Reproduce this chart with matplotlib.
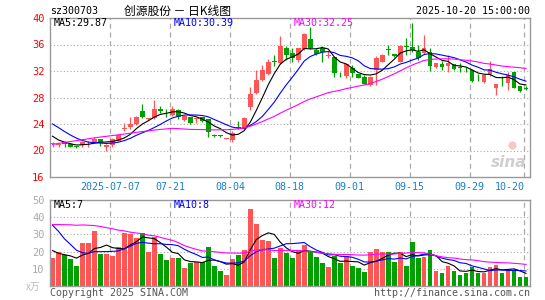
import matplotlib
matplotlib.use("Agg")
import matplotlib.pyplot as plt
import numpy as np
import pandas as pd
from matplotlib.transforms import blended_transform_factory

plt.rcParams["font.family"] = ["DejaVu Sans Mono", "Noto Sans CJK SC"]

# daily bars, 2025-06-23 .. 2025-10-20 (80 trading days)
OPEN = [20.95, 20.9, 21.3, 20.95, 20.6, 20.8, 21.25, 21.3, 21.7, 20.6,
        20.8, 21.5, 23.25, 23.5, 24.0, 25.9, 24.7, 24.9, 26.2, 26.0,
        25.35, 26.1, 24.65, 25.0, 24.7, 25.0, 24.7, 22.3, 22.3, 21.8,
        21.6, 23.6, 23.45, 26.5, 28.7, 30.6, 31.5, 33.5, 33.2, 35.4,
        34.7, 33.7, 35.3, 36.8, 35.2, 35.4, 34.2, 34.05, 31.6, 31.3,
        32.4, 31.5, 31.15, 29.9, 32.15, 33.4, 35.25, 34.5, 33.4, 35.75,
        35.67, 34.9, 34.7, 34.8, 32.55, 33.1, 32.75, 33.0, 32.55, 32.35,
        32.15, 30.95, 30.4, 31.5, 29.4, 30.35, 30.25, 31.8, 29.8, 29.35]
HIGH = [21.35, 21.2, 21.4, 21.1, 20.7, 21.45, 21.4, 22.0, 21.75, 21.0,
        21.9, 22.4, 24.1, 25.1, 25.2, 27.0, 24.9, 27.6, 26.7, 26.2,
        26.7, 26.2, 25.3, 25.1, 25.0, 25.1, 24.75, 22.5, 22.4, 21.95,
        22.95, 24.5, 25.1, 29.6, 32.1, 32.9, 33.8, 34.4, 37.3, 35.8,
        35.4, 35.4, 37.7, 38.7, 35.4, 35.7, 35.0, 34.1, 31.9, 33.1,
        32.9, 31.6, 31.4, 31.2, 34.2, 34.5, 36.0, 34.6, 35.9, 37.0,
        39.2, 35.9, 37.4, 35.4, 33.2, 33.5, 34.4, 33.1, 33.2, 32.6,
        32.2, 31.5, 31.6, 33.5, 30.1, 31.2, 31.9, 31.9, 29.8, 29.7]
LOW = [20.6, 20.6, 20.5, 20.5, 20.45, 20.6, 20.6, 21.2, 20.7, 20.0,
       20.6, 21.4, 22.9, 23.3, 23.9, 24.9, 24.6, 24.7, 25.6, 25.1,
       25.2, 24.7, 24.5, 23.95, 24.2, 24.3, 22.1, 22.1, 22.1, 21.75,
       21.3, 23.3, 23.3, 26.1, 28.6, 30.5, 31.4, 32.7, 33.0, 33.7,
       33.4, 33.4, 35.2, 35.3, 34.4, 33.4, 33.9, 31.1, 31.15, 30.9,
       31.15, 30.9, 30.0, 29.7, 29.9, 33.3, 34.4, 34.1, 33.3, 34.4,
       34.9, 33.7, 34.5, 32.0, 32.4, 32.15, 31.9, 32.2, 31.9, 31.9,
       30.4, 30.5, 30.2, 31.3, 28.4, 29.7, 29.1, 29.5, 28.9, 29.1]
CLOSE = [21.1, 20.95, 20.95, 20.6, 20.55, 21.3, 21.3, 21.8, 21.25, 20.8,
         21.7, 22.3, 23.45, 24.0, 25.1, 25.1, 24.85, 26.2, 26.0, 25.9,
         26.2, 25.0, 25.15, 24.2, 24.9, 24.4, 22.8, 22.2, 22.2, 21.85,
         22.6, 23.4, 24.95, 28.6, 30.7, 32.1, 33.3, 33.35, 35.7, 34.4,
         33.9, 35.4, 37.6, 35.4, 34.5, 34.8, 34.35, 31.65, 31.5, 33.05,
         31.65, 31.0, 30.1, 31.15, 33.9, 34.4, 35.15, 34.2, 35.8, 35.65,
         35.17, 34.0, 35.4, 32.8, 33.15, 32.65, 33.25, 32.3, 32.5, 32.3,
         30.5, 30.9, 31.4, 32.3, 30.0, 30.3, 31.4, 29.5, 29.0, 29.3]
VOLUME = [16, 20, 18, 15.5, 11.5, 25, 25, 32, 18.5, 18.5,
          17.5, 22.5, 31, 30, 28, 31, 20, 28.5, 18.5, 15,
          16, 16, 10.5, 13.5, 14, 14, 22.5, 11.5, 9, 6.5,
          15.5, 18, 21, 44.5, 36, 27, 26, 16.5, 22, 19.4,
          16, 21.2, 24.1, 20.6, 16.7, 13.1, 11.2, 17.6, 13.1, 17.5,
          11.8, 10.2, 8.2, 19.8, 21.8, 20, 19.6, 14.1, 20, 11.8,
          25.3, 16.3, 16.7, 21.2, 8.8, 7.8, 11.8, 8.8, 6.5, 7.8,
          11.2, 7.8, 7.8, 11.2, 12.4, 7.6, 9.2, 9.4, 5.3, 5.3]

# earlier sessions, only needed to seed the moving averages
PRIOR_CLOSE = [16.3, 16.5, 16.4, 16.8, 17.0, 17.2, 17.5, 17.4, 17.8, 18.0,
               19.0, 19.8, 20.5, 21.0, 21.5, 22.0, 22.5, 23.0, 23.5, 23.7,
               26.5, 26.8, 26.0, 25.2, 24.8, 23.8, 22.6, 21.8, 21.5]
PRIOR_VOLUME = [18, 22, 17, 20, 19, 30, 38, 34, 40, 35.5,
                48, 44, 52, 42, 43.5, 46, 40, 45, 42, 42,
                55, 62, 48, 45, 40, 28, 22, 19, 18]

TICK_IDX = [10, 20, 30, 40, 50, 60, 70, 79]
TICK_LABELS = ["2025-07-07", "07-21", "08-04", "08-18", "09-01", "09-15", "09-29", "10-20"]
PRICE_TICKS = [16, 20, 24, 28, 32, 36, 40]
VOL_TICKS = [10, 20, 30, 40, 50]

RED = "#ff5555"
GREEN = "#00a000"
GRID = "#aaaaaa"
FRAME = "#999999"
MA_COLORS = {5: "black", 10: "#0000ff", 30: "#ff00ff"}

W, H = 545, 300
fig = plt.figure(figsize=(W / 100, H / 100), dpi=100)


def px_axes(l, t, r, b):
    return fig.add_axes([l / W, 1 - b / H, (r - l) / W, (b - t) / H])


def moving(prior, values, n):
    s = pd.Series(list(prior) + list(values), dtype=float)
    return s.rolling(n).mean().iloc[-len(values):].to_numpy()


def style_axes(ax, hgrid):
    for sp in ax.spines.values():
        sp.set_color(FRAME)
        sp.set_linewidth(1.0)
    for y in hgrid:
        ax.axhline(y, color=GRID, lw=0.8, ls=(0, (1, 2)), zorder=0)
    for i in TICK_IDX:
        ax.axvline(i - 0.4, color=GRID, lw=0.9, ls=(0, (4, 3)), zorder=0)
    ax.set_xlim(-0.42, 79.67)
    ax.set_xticks([])


idx = np.arange(len(CLOSE))
o, h, l, c = map(np.array, (OPEN, HIGH, LOW, CLOSE))
up = c >= o
cols = np.where(up, RED, GREEN)

ax = px_axes(50, 18, 530, 177)
style_axes(ax, [20, 24, 28, 32, 36])
ax.set_ylim(16, 40)
ax.vlines(idx, l, h, colors=cols, lw=0.9, zorder=2)
body = np.maximum(np.abs(c - o), 0.06)
ax.bar(idx, body, bottom=np.minimum(o, c), width=0.8, color=cols, lw=0, zorder=3)
for n in (5, 10, 30):
    ax.plot(idx, moving(PRIOR_CLOSE, CLOSE, n), color=MA_COLORS[n], lw=0.8, zorder=4)
ax.set_yticks(PRICE_TICKS)
ax.tick_params(axis="y", length=0, pad=4, labelsize=7.5, labelcolor="red")
ax.text(0.955, 0.09, "sina", transform=ax.transAxes, ha="center", va="center",
        fontsize=11, style="italic", weight="bold", color="#cfcfcf",
        family="DejaVu Sans", zorder=1)
ax.plot([0.962], [0.2], "o", transform=ax.transAxes, ms=6, color="#f6c8c8",
        mec="none", zorder=1)

axv = px_axes(50, 200, 530, 286)
style_axes(axv, [10, 20, 30, 40])
axv.set_ylim(0, 50)
axv.bar(idx, VOLUME, width=0.8, color=cols, lw=0, zorder=2)
for n in (5, 10, 30):
    axv.plot(idx, moving(PRIOR_VOLUME, VOLUME, n), color=MA_COLORS[n], lw=0.8, zorder=4)
axv.set_yticks(VOL_TICKS)
axv.tick_params(axis="y", length=0, pad=4, labelsize=7.5, labelcolor="#aaaaaa")

trans = blended_transform_factory(ax.transData, fig.transFigure)
for i, lab in zip(TICK_IDX, TICK_LABELS):
    ax.text(i - 0.4 + (0.2 if i == TICK_IDX[-1] else 0), 1 - 186.5 / H, lab,
            transform=trans, ha="right" if i == TICK_IDX[-1] else "center",
            va="center", fontsize=7.2, color="#1a7fc8")


def ftext(x, y, s, **kw):
    kw.setdefault("fontsize", 7.2)
    kw.setdefault("va", "center")
    fig.text(x / W, 1 - y / H, s, **kw)


ftext(50, 11, "sz300703")
ftext(178, 11, "创源股份 － 日K线图", ha="center", fontsize=8.5,
      family=["Noto Sans CJK SC", "DejaVu Sans"])
ftext(530, 11, "2025-10-20 15:00:00", ha="right")

ftext(54, 23.5, "MA5:29.87", color="black")
ftext(174, 23.5, "MA10:30.39", color="#0000ff")
ftext(294, 23.5, "MA30:32.25", color="#ff00ff")
ftext(54, 205.5, "MA5:7", color="black")
ftext(174, 205.5, "MA10:8", color="#0000ff")
ftext(294, 205.5, "MA30:12", color="#ff00ff")

ftext(26, 287, "x万", color="#bbbbbb", fontsize=7,
      family=["Noto Sans CJK SC", "DejaVu Sans"])
ftext(50, 293, "Copyright 2025 SINA.COM", color="#555555")
ftext(530, 293, "http://finance.sina.com.cn", ha="right", color="#555555")

fig.savefig("out.png", dpi=100)
